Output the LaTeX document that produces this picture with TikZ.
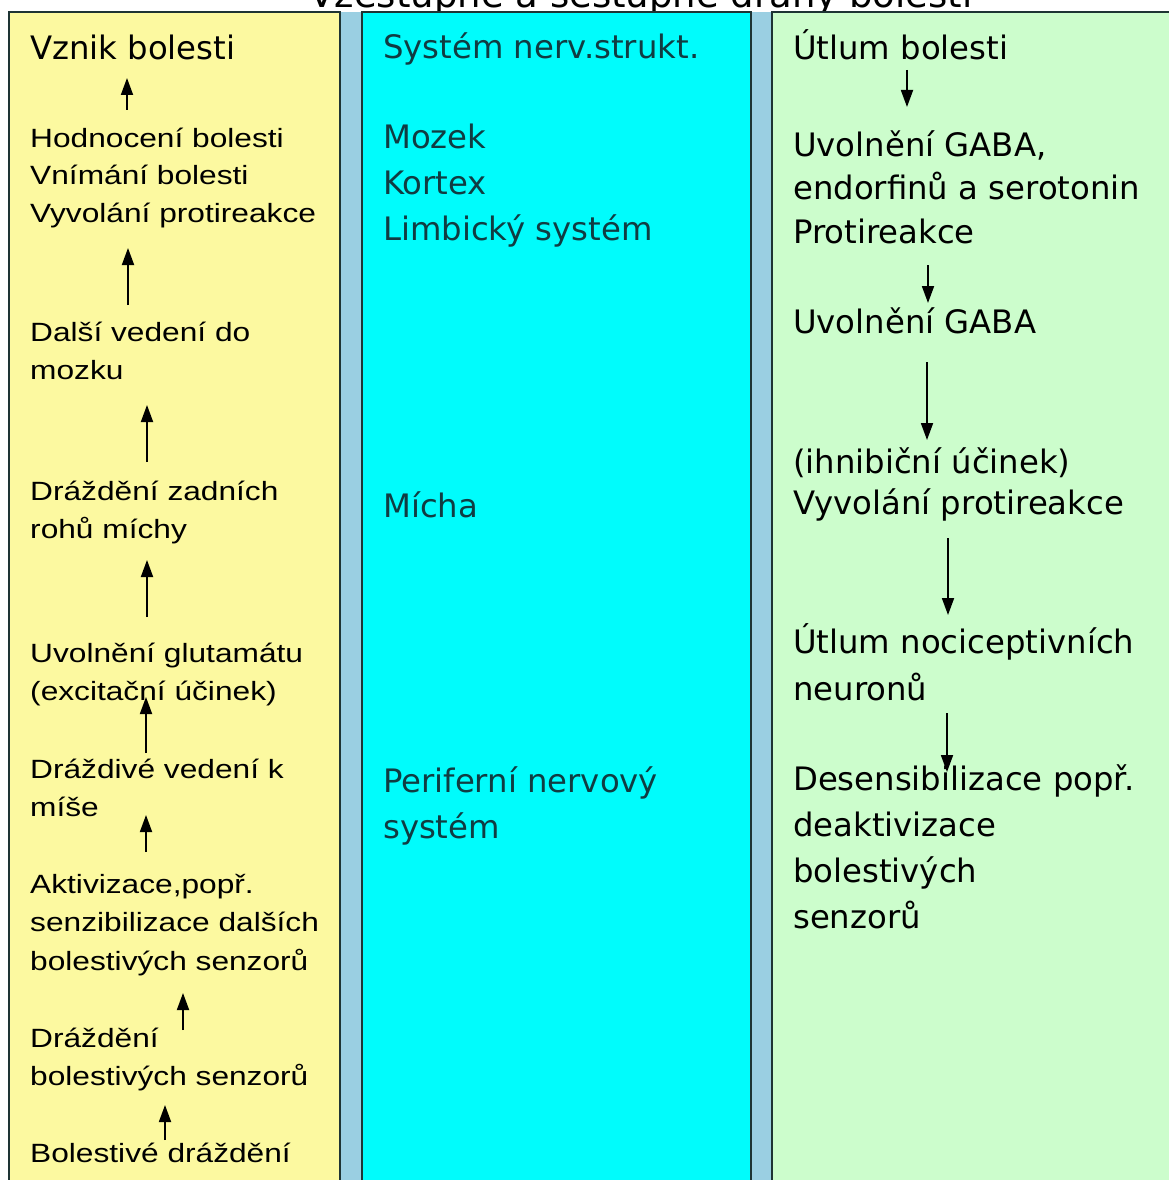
\documentclass[tikz,border=0pt]{standalone}
\usepackage{fontspec}
\setmainfont{DejaVu Sans}
\newfontfamily\thinfont[FakeStretch=1.2]{Liberation Sans}
\usetikzlibrary{arrows.meta,calc}

\definecolor{colyellow}{HTML}{FCF9A0}
\definecolor{colcyan}{HTML}{00FCFC}
\definecolor{colgreen}{HTML}{CCFDCC}
\definecolor{colstrip}{HTML}{9ACFE2}
\definecolor{colborder}{HTML}{1E3434}
\definecolor{colmid}{HTML}{103C42}

% Multi-line nodes are placed by the baseline of their last line.
\tikzset{
  head/.style={inner sep=0pt, anchor=base west, align=left,
    font=\fontsize{32.3}{45}\selectfont},
  bigtext/.style={inner sep=0pt, anchor=base west, align=left,
    font=\fontsize{32.3}{#1}\selectfont},
  bigtext/.default=45,
  smalltext/.style={inner sep=0pt, anchor=base west, align=left,
    font=\thinfont\fontsize{26.4}{#1}\selectfont},
  smalltext/.default=38,
  midtext/.style={bigtext=#1, text=colmid},
  midtext/.default=46,
  flow/.style={draw=black, line width=1.8pt,
    -{Triangle[length=17pt,width=12pt]}},
  panel/.style={draw=colborder, line width=2pt}
}

\begin{document}
\begin{tikzpicture}[x=1pt, y=-1pt]
\useasboundingbox (0,0) rectangle (1169,1180);
\fill[white] (0,0) rectangle (1169,1180);

% heading above the table (its upper part lies outside the page)
\node[inner sep=0pt, anchor=base, font=\fontsize{37}{40}\selectfont]
  (title) at (641,8) {Vzestupné a sestupné dráhy bolesti};

% table background and the three columns
\fill[colstrip] (340,12) rectangle (1169,1200);
\fill[colyellow] (9,12) rectangle (340,1200);
\fill[colcyan] (362,12) rectangle (751,1200);
\fill[colgreen] (772,12) rectangle (1180,1200);
\draw[panel] (9,1200) -- (9,12) -- (340,12) -- (340,1200);
\draw[panel] (362,1200) -- (362,12) -- (751,12) -- (751,1200);
\draw[panel] (772,1200) -- (772,12) -- (1180,12);

% ascending pathway
\node[head] (vznik) at (30,60) {Vznik bolesti};
\node[smalltext=37.5] (hod) at (30,222) {Hodnocení bolesti\\Vnímání bolesti\\Vyvolání protireakce};
\node[smalltext] (dalsi) at (30,379) {Další vedení do\\mozku};
\node[smalltext] (drz) at (30,538) {Dráždění zadních\\rohů míchy};
\node[smalltext] (uvg) at (30,700) {Uvolnění glutamátu\\(excitační účinek)};
\node[smalltext] (drv) at (30,816) {Dráždivé vedení k\\míše};
\node[smalltext=38.5] (akt) at (30,970) {Aktivizace,popř.\\senzibilizace dalších\\bolestivých senzorů};
\node[smalltext] (drs) at (30,1085) {Dráždění\\bolestivých senzorů};
\node[smalltext] (bol) at (30,1162) {Bolestivé dráždění};

\draw[flow] ($(hod.base west)+(97,-112)$) -- ($(vznik.base west)+(97,18)$);
\draw[flow] ($(dalsi.base west)+(98,-74)$) -- ($(hod.base west)+(98,26)$);
\draw[flow] ($(drz.base west)+(117,-76)$) -- ($(dalsi.base west)+(117,26)$);
\draw[flow] ($(uvg.base west)+(117,-83)$) -- ($(drz.base west)+(117,22)$);
\draw[flow] ($(drv.base west)+(116,-63)$) -- ($(uvg.base west)+(116,-3)$);
\draw[flow] ($(akt.base west)+(116,-118)$) -- ($(drv.base west)+(116,-1)$);
\draw[flow] ($(drs.base west)+(153,-55)$) -- ($(akt.base west)+(153,23)$);
\draw[flow] ($(bol.base west)+(135,-22)$) -- ($(drs.base west)+(135,20)$);

% nervous structures
\node[midtext] (sys) at (383,59) {Systém nerv.strukt.};
\node[midtext] (mozek) at (383,240) {Mozek\\Kortex\\Limbický systém};
\node[midtext] (micha) at (383,517) {Mícha};
\node[midtext] (perif) at (383,838) {Periferní nervový\\systém};

% descending pathway
\node[head] (utl) at (793,60) {Útlum bolesti};
\node[bigtext=43.5] (uvo) at (793,243) {Uvolnění GABA,\\endorfinů a serotonin\\Protireakce};
\node[bigtext] (uvo2) at (793,333) {Uvolnění GABA};
\node[bigtext=41] (ihn) at (793,514) {(ihnibiční účinek)\\Vyvolání protireakce};
\node[bigtext=47] (utn) at (793,700) {Útlum nociceptivních\\neuronů};
\node[bigtext=46] (des) at (793,928) {Desensibilizace popř.\\deaktivizace\\bolestivých\\senzorů};

\draw[flow] ($(utl.base west)+(114,10)$) -- ($(uvo.base west)+(114,-136)$);
\draw[flow] ($(uvo.base west)+(135,22)$) -- ($(uvo2.base west)+(135,-30)$);
\draw[flow] ($(uvo2.base west)+(134,29)$) -- ($(ihn.base west)+(134,-74)$);
\draw[flow] ($(ihn.base west)+(155,24)$) -- ($(utn.base west)+(155,-85)$);
\draw[flow] ($(utn.base west)+(154,13)$) -- ($(des.base west)+(154,-156)$);
\end{tikzpicture}
\end{document}
